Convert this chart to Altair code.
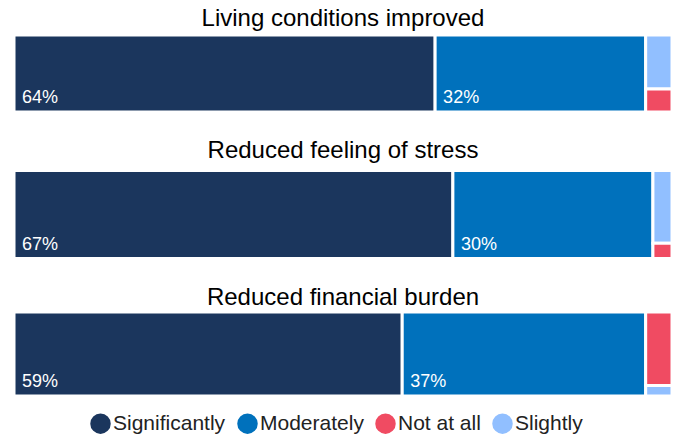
import altair as alt
import pandas as pd

panels = ["Living conditions improved", "Reduced feeling of stress", "Reduced financial burden"]
significantly = [64, 66.7, 59]
moderately = [32, 30.4, 37]
not_at_all = [1.2, 0.5, 3.5]
slightly = [2.8, 2.4, 0.5]

categories = ["Significantly", "Moderately", "Not at all", "Slightly"]
colors = ["#1B365D", "#0071BC", "#F04B62", "#91BFFF"]

panel_heights = [77, 88, 84]
title_offsets = [3, 6, 1]

FONT = "Liberation Sans"


def panel_frame(i):
    s, m, n, sl = significantly[i], moderately[i], not_at_all[i], slightly[i]
    rest = n + sl
    rows = [
        dict(category="Significantly", x0=0, x1=s, y0=0, y1=1, label=f"{round(s)}%"),
        dict(category="Moderately", x0=s, x1=s + m, y0=0, y1=1, label=f"{round(m)}%"),
    ]
    c0, c1 = s + m, s + m + rest
    if sl >= n:
        top, topv, bot, botv = "Slightly", sl, "Not at all", n
    else:
        top, topv, bot, botv = "Not at all", n, "Slightly", sl
    rows.append(dict(category=top, x0=c0, x1=c1, y0=1 - topv / rest, y1=1, label=""))
    rows.append(dict(category=bot, x0=c0, x1=c1, y0=0, y1=botv / rest, label=""))
    return pd.DataFrame(rows)


charts = []
for i, p in enumerate(panels):
    base = alt.Chart(panel_frame(i))
    rect = base.mark_rect(stroke="white", strokeWidth=3).encode(
        x=alt.X("x0:Q", scale=alt.Scale(domain=[0, 100], nice=False), axis=None),
        x2="x1:Q",
        y=alt.Y("y0:Q", scale=alt.Scale(domain=[0, 1], nice=False), axis=None),
        y2="y1:Q",
        color=alt.Color(
            "category:N",
            scale=alt.Scale(domain=categories, range=colors),
            legend=alt.Legend(
                title=None,
                orient="none",
                legendX=76,
                legendY=378,
                direction="horizontal",
                symbolType="circle",
                symbolSize=420,
                symbolStrokeWidth=0,
                symbolOpacity=1,
                labelFontSize=21,
                labelFont=FONT,
                labelColor="#222222",
                labelOffset=2,
                columnPadding=11,
            ),
        ),
    )
    text = base.transform_filter("datum.label != ''").mark_text(
        align="left", baseline="bottom", dx=8, dy=-5, color="white", fontSize=18, font=FONT
    ).encode(x="x0:Q", y="y0:Q", text="label:N")
    charts.append(
        alt.layer(rect, text).properties(
            width=658,
            height=panel_heights[i],
            title=alt.TitleParams(p, fontSize=24, font=FONT, fontWeight="normal", color="black",
                                  offset=title_offsets[i]),
        )
    )

chart = (
    alt.vconcat(*charts, spacing=24.5)
    .properties(padding={"left": 12, "top": 6, "right": 0, "bottom": 0})
    .configure_view(stroke=None)
)

chart.save("out.html", embed_options={"renderer": "svg", "actions": False})
